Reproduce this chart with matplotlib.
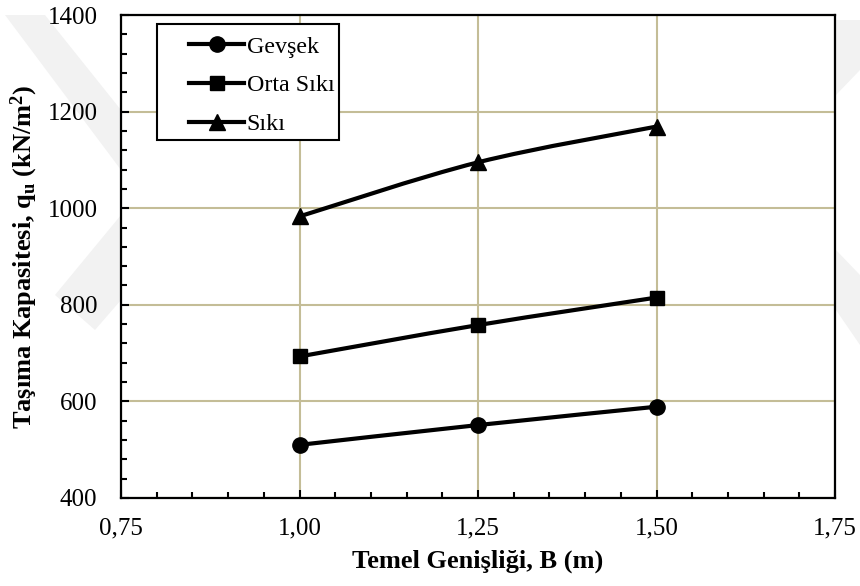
import numpy as np
import matplotlib
matplotlib.use("Agg")
import matplotlib.pyplot as plt
from matplotlib.path import Path
from matplotlib.patches import PathPatch, Polygon, Rectangle
from matplotlib.lines import Line2D
from matplotlib.ticker import MultipleLocator, FuncFormatter

plt.rcParams['font.family'] = 'Liberation Serif'
plt.rcParams['mathtext.fontset'] = 'custom'
plt.rcParams['mathtext.rm'] = 'Liberation Serif'
plt.rcParams['mathtext.it'] = 'Liberation Serif:italic'
plt.rcParams['mathtext.bf'] = 'Liberation Serif:bold'

# temel genisligi (m) ve tasima kapasiteleri (kN/m2)
widths = [1.00, 1.25, 1.50]
gevsek = [510, 551, 589]
orta_siki = [693, 758, 815]
siki = [983, 1095, 1169]

series = [gevsek, orta_siki, siki]
labels = ['Gevşek', 'Orta Sıkı', 'Sıkı']
markers = ['o', 's', '^']
msizes = [11, 10.5, 11.5]

grid_col = '#C4BD97'


def smooth_path(x, y):
    # Catmull-Rom style cubic bezier through the points (excel "smoothed line")
    pts = np.column_stack([x, y]).astype(float)
    n = len(pts)
    verts = [pts[0]]
    codes = [Path.MOVETO]
    for i in range(n - 1):
        p0 = pts[max(i - 1, 0)]
        p1 = pts[i]
        p2 = pts[i + 1]
        p3 = pts[min(i + 2, n - 1)]
        verts += [p1 + (p2 - p0) / 6.0, p2 - (p3 - p1) / 6.0, p2]
        codes += [Path.CURVE4] * 3
    return Path(verts, codes)


W, H = 860, 586
fig = plt.figure(figsize=(W / 100, H / 100), dpi=100)

# faint background logo shapes (pixel coords, y from top)
def px(pts):
    return [(a / W, 1 - b / H) for a, b in pts]

shapes = [
    [(5, 15), (45, 15), (121, 110), (121, 170)],
    [(55, 295), (121, 215), (121, 300), (95, 330)],
    [(836, 20), (860, 20), (860, 70), (836, 95)],
    [(836, 250), (860, 275), (860, 345), (836, 310)],
]
for s in shapes:
    fig.add_artist(Polygon(px(s), closed=True, transform=fig.transFigure,
                           facecolor='#f2f2f2', edgecolor='none', zorder=-1))

ax = fig.add_axes([121 / W, 1 - 498 / H, (835 - 121) / W, (498 - 15) / H])
ax.set_facecolor('white')

for vals, m, ms in zip(series, markers, msizes):
    ax.add_patch(PathPatch(smooth_path(widths, vals), facecolor='none',
                           edgecolor='black', lw=3, joinstyle='round',
                           capstyle='round', zorder=3))
    ax.plot(widths, vals, linestyle='none', marker=m, markersize=ms,
            color='black', zorder=4)

ax.set_xlim(0.75, 1.75)
ax.set_ylim(400, 1400)
ax.xaxis.set_major_locator(MultipleLocator(0.25))
ax.xaxis.set_minor_locator(MultipleLocator(0.05))
ax.yaxis.set_major_locator(MultipleLocator(200))
ax.yaxis.set_minor_locator(MultipleLocator(40))
ax.xaxis.set_major_formatter(FuncFormatter(lambda v, p: f"{v:.2f}".replace('.', ',')))
ax.yaxis.set_major_formatter(FuncFormatter(lambda v, p: f"{v:.0f}"))

ax.grid(True, which='major', color=grid_col, lw=1.5, zorder=1)
ax.set_axisbelow(True)
ax.tick_params(which='both', direction='in', top=False, right=False,
               width=1.5, color='black', labelsize=18)
ax.tick_params(axis='x', pad=14)
ax.tick_params(axis='y', pad=17)
ax.tick_params(which='major', length=6)
ax.tick_params(which='minor', length=4)
for sp in ax.spines.values():
    sp.set_linewidth(1.6)
    sp.set_color('black')

ax.set_xlabel('Temel Genişliği, B (m)', fontsize=19, fontweight='bold', labelpad=7)
ax.set_ylabel(r'Taşıma Kapasitesi, $\mathbf{q}_\mathbf{u}$ (kN/m$^\mathbf{2}$)',
              fontsize=19, fontweight='bold', labelpad=5)

# legend box
ax.add_patch(Rectangle((0.0504, 0.7412), 0.2549, 0.2402, transform=ax.transAxes,
                       facecolor='white', edgecolor='black', lw=1.5, zorder=4.5))
handles = [Line2D([], [], color='black', lw=3, marker=m, markersize=ms)
           for m, ms in zip(markers, msizes)]
ax.legend(handles, labels, loc='upper left', bbox_to_anchor=(0.0952, 0.9566),
          frameon=False, borderpad=0, borderaxespad=0, handlelength=2.3,
          handletextpad=0.1, labelspacing=0.7, fontsize=17.3)

fig.savefig('out.png', dpi=100)
